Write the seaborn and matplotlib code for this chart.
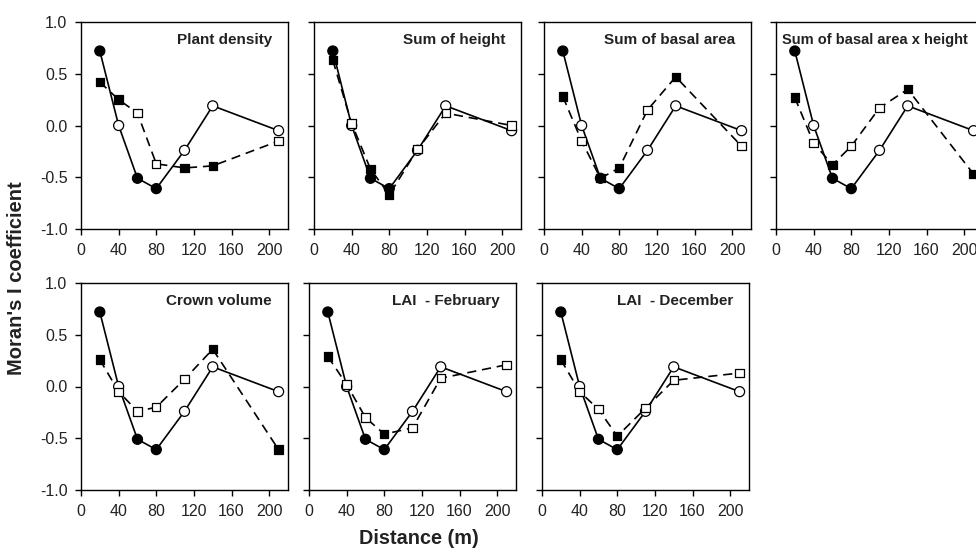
import pandas as pd
import seaborn as sns
import matplotlib.pyplot as plt

distance = [20, 40, 60, 80, 110, 140, 210]

# solid line with circles, same in every panel
ref_values = [0.72, 0.0, -0.51, -0.61, -0.24, 0.19, -0.05]
ref_signif = [1, 0, 1, 1, 0, 0, 0]

titles = ["Plant density", "Sum of height", "Sum of basal area",
          "Sum of basal area x height", "Crown volume",
          "LAI  - February", "LAI  - December"]

plant_density = [0.42, 0.25, 0.12, -0.37, -0.41, -0.39, -0.15]
plant_density_sig = [1, 1, 0, 0, 1, 1, 0]
sum_height = [0.63, 0.02, -0.42, -0.67, -0.23, 0.12, 0.0]
sum_height_sig = [1, 0, 1, 1, 0, 0, 0]
sum_basal = [0.28, -0.15, -0.51, -0.41, 0.15, 0.47, -0.20]
sum_basal_sig = [1, 0, 1, 1, 0, 1, 0]
sum_basal_height = [0.27, -0.17, -0.38, -0.20, 0.17, 0.35, -0.47]
sum_basal_height_sig = [1, 0, 1, 0, 0, 1, 1]
crown_volume = [0.26, -0.05, -0.24, -0.20, 0.07, 0.36, -0.61]
crown_volume_sig = [1, 0, 0, 0, 0, 1, 1]
lai_feb = [0.29, 0.02, -0.30, -0.46, -0.40, 0.08, 0.21]
lai_feb_sig = [1, 0, 0, 1, 0, 0, 0]
lai_dec = [0.26, -0.05, -0.22, -0.48, -0.21, 0.06, 0.13]
lai_dec_sig = [1, 0, 0, 1, 0, 0, 0]

series = [(plant_density, plant_density_sig), (sum_height, sum_height_sig),
          (sum_basal, sum_basal_sig), (sum_basal_height, sum_basal_height_sig),
          (crown_volume, crown_volume_sig), (lai_feb, lai_feb_sig),
          (lai_dec, lai_dec_sig)]

sns.set_style("ticks")
plt.rcParams['font.family'] = ['Liberation Sans', 'DejaVu Sans']
plt.rcParams['axes.unicode_minus'] = False

fig = plt.figure(figsize=(9.76, 5.48), dpi=100)

W, H = 976.0, 548.0
aw, ah = 207 / W, 207 / H
positions = [(81, 229), (314, 229), (544, 229), (776, 229),
             (81, 490), (309, 490), (542, 490)]
fill = {1: "black", 0: "white"}

for i, (title, (vals, sig)) in enumerate(zip(titles, series)):
    px, py = positions[i]
    ax = fig.add_axes([px / W, 1 - py / H, aw, ah])
    ref = pd.DataFrame({"Distance": distance, "I": ref_values, "sig": ref_signif})
    var = pd.DataFrame({"Distance": distance, "I": vals, "sig": sig})

    sns.lineplot(data=ref, x="Distance", y="I", color="black", lw=1.2, ax=ax, zorder=2)
    sns.lineplot(data=var, x="Distance", y="I", color="black", lw=1.2,
                 linestyle=(0, (5.5, 3.5)), ax=ax, zorder=2)
    sns.scatterplot(data=ref, x="Distance", y="I", hue="sig", palette=fill,
                    marker="o", s=52, edgecolor="black", linewidth=0.9,
                    legend=False, ax=ax, zorder=3)
    sns.scatterplot(data=var, x="Distance", y="I", hue="sig", palette=fill,
                    marker="s", s=36, edgecolor="black", linewidth=0.9,
                    legend=False, ax=ax, zorder=4)

    ax.set(xlim=(0, 220), ylim=(-1, 1), xlabel="", ylabel="")
    ax.set_xticks([0, 40, 80, 120, 160, 200])
    ax.set_yticks([-1.0, -0.5, 0.0, 0.5, 1.0])
    if positions[i][0] == 81:
        ax.set_yticklabels(["-1.0", "-0.5", "0.0", "0.5", "1.0"])
    else:
        ax.set_yticklabels([])
    ax.tick_params(labelsize=11.5, length=4.3, width=1, color="black", pad=5.5,
                   labelcolor="#222222")
    for s in ax.spines.values():
        s.set_linewidth(1.0)
        s.set_color("black")
    if i == 3:
        # this panel runs past the right edge, keep its title inside the figure
        ax.text(0.03, 0.915, title, transform=ax.transAxes, ha="left",
                va="center", fontweight="bold", fontsize=10.5, color="#222222")
    else:
        ax.text(0.923, 0.915, title, transform=ax.transAxes, ha="right",
                va="center", fontweight="bold", fontsize=11, color="#222222")

fig.text(16.5 / W, 1 - 278 / H, "Moran's I coefficient", rotation=90,
         ha="center", va="center", fontweight="bold", fontsize=14.5, color="#222222")
fig.text(419 / W, 1 - 539 / H, "Distance (m)", ha="center", va="center",
         fontweight="bold", fontsize=14.3, color="#222222")

fig.savefig("out.png", dpi=100)
